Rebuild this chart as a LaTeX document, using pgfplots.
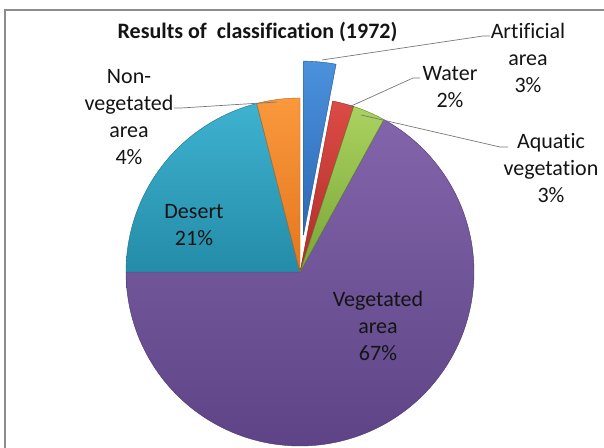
\documentclass[border=0pt]{standalone}
\usepackage{pgfplots}
\pgfplotsset{compat=1.18}
\usepackage{fontspec}
\setmainfont{Carlito}[Ligatures=NoCommon]
\definecolor{framegray}{RGB}{140,140,140}
\definecolor{leadgray}{RGB}{120,120,120}
\definecolor{txt}{RGB}{20,20,20}
\definecolor{blueT}{RGB}{75,145,220}\definecolor{blueB}{RGB}{45,105,180}
\definecolor{redT}{RGB}{220,75,70}\definecolor{redB}{RGB}{175,45,40}
\definecolor{greenT}{RGB}{170,210,95}\definecolor{greenB}{RGB}{120,165,55}
\definecolor{purpT}{RGB}{130,100,170}\definecolor{purpB}{RGB}{94,68,134}
\definecolor{tealT}{RGB}{62,178,208}\definecolor{tealB}{RGB}{36,140,168}
\definecolor{orT}{RGB}{250,152,60}\definecolor{orB}{RGB}{228,118,30}
% #1 cumulative start (%), #2 value (%), #3 colour prefix, #4 explode (px)
\newcommand{\slice}[4]{%
  \pgfmathsetmacro\aA{90-3.6*(#1+#2)}%
  \pgfmathsetmacro\aB{90-3.6*#1}%
  \pgfmathsetmacro\aM{(\aA+\aB)/2}%
  \pgfmathsetmacro\cx{300+#4*cos(\aM)}%
  \pgfmathsetmacro\cy{176+#4*sin(\aM)}%
  \edef\temp{\noexpand\addplot[draw=#3B!80!black, line width=0.4pt, top color=#3T, bottom color=#3B, domain=\aA:\aB, samples=200, variable=\noexpand\t] ({\cx+174*cos(\noexpand\t)},{\cy+174*sin(\noexpand\t)}) -- (axis cs:\cx,\cy) -- cycle;}%
  \temp
}
\begin{document}
\begin{tikzpicture}
\begin{axis}[
  scale only axis, width=604bp, height=448bp,
  xmin=0, xmax=604, ymin=0, ymax=448,
  hide axis, clip=true,
  at={(0,0)}, anchor=south west,
]
% frame
\addplot[draw=framegray, line width=1.3pt] coordinates {(5,0) (5,438) (604,438)};
% slices: Artificial 3, Water 2, Aquatic 3, Vegetated 67, Desert 21, Non-vegetated 4
\slice{8}{67}{purp}{0}
\slice{75}{21}{teal}{0}
\slice{96}{4}{or}{0}
\slice{0}{3}{blue}{37}
\slice{3}{2}{red}{0}
\slice{5}{3}{green}{0}
% leader lines
\addplot[draw=leadgray, line width=0.7pt] coordinates {(322,388) (483,412) (490,412)};
\addplot[draw=leadgray, line width=0.7pt] coordinates {(349,341) (413,370) (420,370)};
\addplot[draw=leadgray, line width=0.7pt] coordinates {(361,333) (500,301) (508,301)};
\addplot[draw=leadgray, line width=0.7pt] coordinates {(277,346) (181,340) (174,340)};
% labels
\begin{scope}[every node/.style={align=center, text=txt, font=\fontsize{22bp}{27bp}\selectfont, inner sep=0pt}]
\node at (axis cs:528,390.5) {Artificial\\area\\3\%};
\node at (axis cs:450,361) {Water\\2\%};
\node at (axis cs:551,279.5) {Aquatic\\vegetation\\3\%};
\node at (axis cs:129,331) {Non-\\vegetated\\area\\4\%};
\node at (axis cs:194,223) {Desert\\21\%};
\node at (axis cs:378,122) {Vegetated\\area\\67\%};
\end{scope}
\node[text=txt, font=\bfseries\fontsize{22bp}{26bp}\selectfont, inner sep=0pt] at (axis cs:257.5,416) {Results of\ \ classification (1972)};
\end{axis}
\pgfresetboundingbox
\path[use as bounding box] (0,0) rectangle (604bp,448bp);
\end{tikzpicture}
\end{document}
